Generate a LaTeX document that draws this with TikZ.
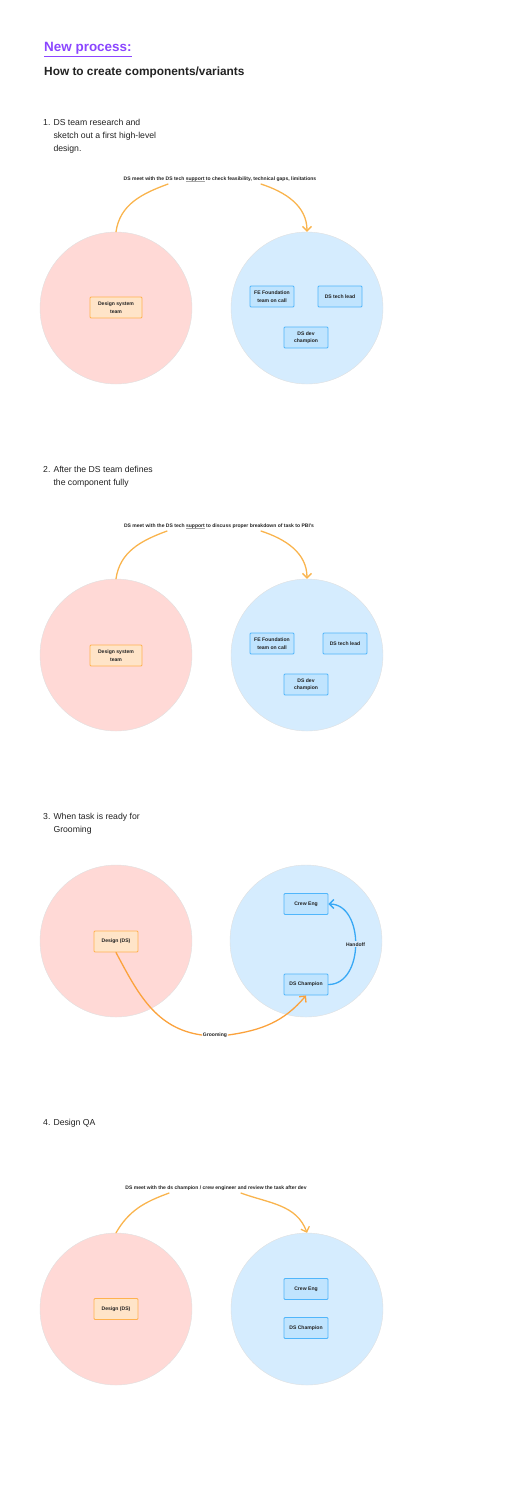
\documentclass[tikz,border=0pt]{standalone}
\usepackage{fontspec}
\setmainfont{Liberation Sans}
\usepackage{xcolor}
\usetikzlibrary{arrows.meta}
\definecolor{dsbg}{HTML}{FFD9D6}
\definecolor{techbg}{HTML}{D5ECFE}
\definecolor{dsbox}{HTML}{FFE4C8}
\definecolor{dsline}{HTML}{FFB24F}
\definecolor{techbox}{HTML}{C0E4FE}
\definecolor{techline}{HTML}{51B6FB}
\definecolor{flowc}{HTML}{F9B44E}
\definecolor{groomc}{HTML}{FBA23C}
\definecolor{handc}{HTML}{38A8F5}
\definecolor{titlec}{HTML}{8B46FF}
\definecolor{inkc}{HTML}{222222}
\newcommand\spellmark[1]{\setbox0\hbox{#1}\rlap{\color{gray!70}\raisebox{-1pt}{\rule{\wd0}{0.35pt}}}#1}

\begin{document}
\begin{tikzpicture}[x=1bp,y=1bp,
	team/.style={circle, minimum size=152bp, inner sep=0pt, draw=black!12, line width=0.4bp},
	dsteam/.style={team, fill=dsbg},
	techteam/.style={team, fill=techbg},
	card/.style={rectangle, rounded corners=1bp, minimum width=44bp, minimum height=21bp, inner sep=1bp, line width=0.9bp, align=center, text=inkc, font=\fontsize{5.1}{7.6}\selectfont\bfseries},
	dscard/.style={card, fill=dsbox, draw=dsline},
	techcard/.style={card, fill=techbox, draw=techline},
	flow/.style={draw=flowc, line width=1.3bp, line cap=round},
	note/.style={inner sep=1bp, text=inkc, font=\fontsize{5.05}{6}\selectfont\bfseries},
	stepnum/.style={anchor=base west, inner sep=0pt, text=inkc, font=\fontsize{8.7}{13}\selectfont},
	steptext/.style={anchor=north west, align=left, inner sep=0pt, text=inkc, font=\fontsize{8.7}{13}\selectfont},
	>={Straight Barb[length=4.5bp,width=9bp]}]
	\useasboundingbox (0,0) rectangle (512,-1487);

	\node[anchor=base west, inner sep=0pt, text=titlec, font=\fontsize{13.5}{16}\selectfont\bfseries] (title) at (44,-52) {\underline{New process:}};
	\node[anchor=base west, inner sep=0pt, text=inkc, font=\fontsize{11.9}{14}\selectfont\bfseries] (subtitle) at (44,-76) {How to create components/variants};
	%% ========================================================
	\begin{scope}[yshift=-308bp]
		\node[stepnum] (numA) at (43,183) {1.};
		\node[steptext] (stepA) at ([xshift=2.7bp]numA.north east) {DS team research and\\sketch out a first high-level\\design.};
		\node[note] (noteA) at (220,129) {DS meet with the DS tech \spellmark{support} to check feasibility, technical gaps, limitations};

		\node[dsteam] (dsA) at (116,0) {};
		\node[techteam] (techA) at (307,0) {};
		\node[dscard, minimum width=52bp] (dsteamA) at (116,0.5) {Design system\\team};
		\node[techcard] (feA) at (272,11.5) {FE Foundation\\team on call};
		\node[techcard] (leadA) at (340,11.5) {DS tech lead};
		\node[techcard] (champA) at (306,-29.5) {DS dev\\champion};

		\draw[flow] (dsA.north) to[out=82,in=200] ([xshift=-52bp,yshift=-1.5bp]noteA.south);
		\draw[flow,->] ([xshift=41bp,yshift=-1.5bp]noteA.south) to[out=-18,in=90] (techA.north);
	\end{scope}
	%% ========================================================
	\begin{scope}[yshift=-655bp]
		\node[stepnum] (numB) at (43,183) {2.};
		\node[steptext] (stepB) at ([xshift=2.7bp]numB.north east) {After the DS team defines\\the component fully};
		\node[note] (noteB) at (219,129) {DS meet with the DS tech \spellmark{support} to discuss proper breakdown of task to PBI's};

		\node[dsteam] (dsB) at (116,0) {};
		\node[techteam] (techB) at (307,0) {};
		\node[dscard, minimum width=52bp] (dsteamB) at (116,-0.5) {Design system\\team};
		\node[techcard] (feB) at (272,11.5) {FE Foundation\\team on call};
		\node[techcard] (leadB) at (345,11.5) {DS tech lead};
		\node[techcard] (champB) at (306,-29.5) {DS dev\\champion};

		\draw[flow] (dsB.north) to[out=82,in=200] ([xshift=-52bp,yshift=-1.5bp]noteB.south);
		\draw[flow,->] ([xshift=42bp,yshift=-1.5bp]noteB.south) to[out=-18,in=90] (techB.north);
	\end{scope}
	%% ========================================================
	\begin{scope}[yshift=-941bp]
		\node[stepnum] (numC) at (43,122) {3.};
		\node[steptext] (stepC) at ([xshift=2.7bp]numC.north east) {When task is ready for\\Grooming};

		\node[dsteam] (dsC) at (116,0) {};
		\node[techteam] (techC) at (306,0) {};
		\node[dscard] (designC) at (116,-0.5) {Design (DS)};
		\node[techcard] (crewC) at (306,37) {Crew Eng};
		\node[techcard] (champC) at (306,-43.5) {DS Champion};
		\node[note] (groomC) at (215,-94) {Grooming};

		\draw[flow, draw=groomc] (designC.south) to[out=-62,in=172] (groomC.west);
		\draw[flow, draw=groomc, ->] (groomC.east) to[out=8,in=-130] (champC.south);
		\draw[flow, draw=handc, ->] (champC.east) to[out=0,in=0,looseness=1.15] node[note, fill=techbg, pos=0.5] (handC) {Handoff} (crewC.east);
	\end{scope}
	%% ========================================================
	\begin{scope}[yshift=-1309bp]
		\node[stepnum] (numD) at (43,184) {4.};
		\node[steptext] (stepD) at ([xshift=2.7bp]numD.north east) {Design QA};
		\node[note] (noteD) at (216,121) {DS meet with the ds champion / crew engineer and review the task after dev};

		\node[dsteam] (dsD) at (116,0) {};
		\node[techteam] (techD) at (307,0) {};
		\node[dscard] (designD) at (116,0) {Design (DS)};
		\node[techcard] (crewD) at (306,20) {Crew Eng};
		\node[techcard] (champD) at (306,-19) {DS Champion};

		\draw[flow] (dsD.north) to[out=60,in=200] ([xshift=-47bp,yshift=-1.5bp]noteD.south);
		\draw[flow,->] ([xshift=25bp,yshift=-1.5bp]noteD.south) to[out=-20,in=110] (techD.north);
	\end{scope}
	%% ========================================================
\end{tikzpicture}
\end{document}
